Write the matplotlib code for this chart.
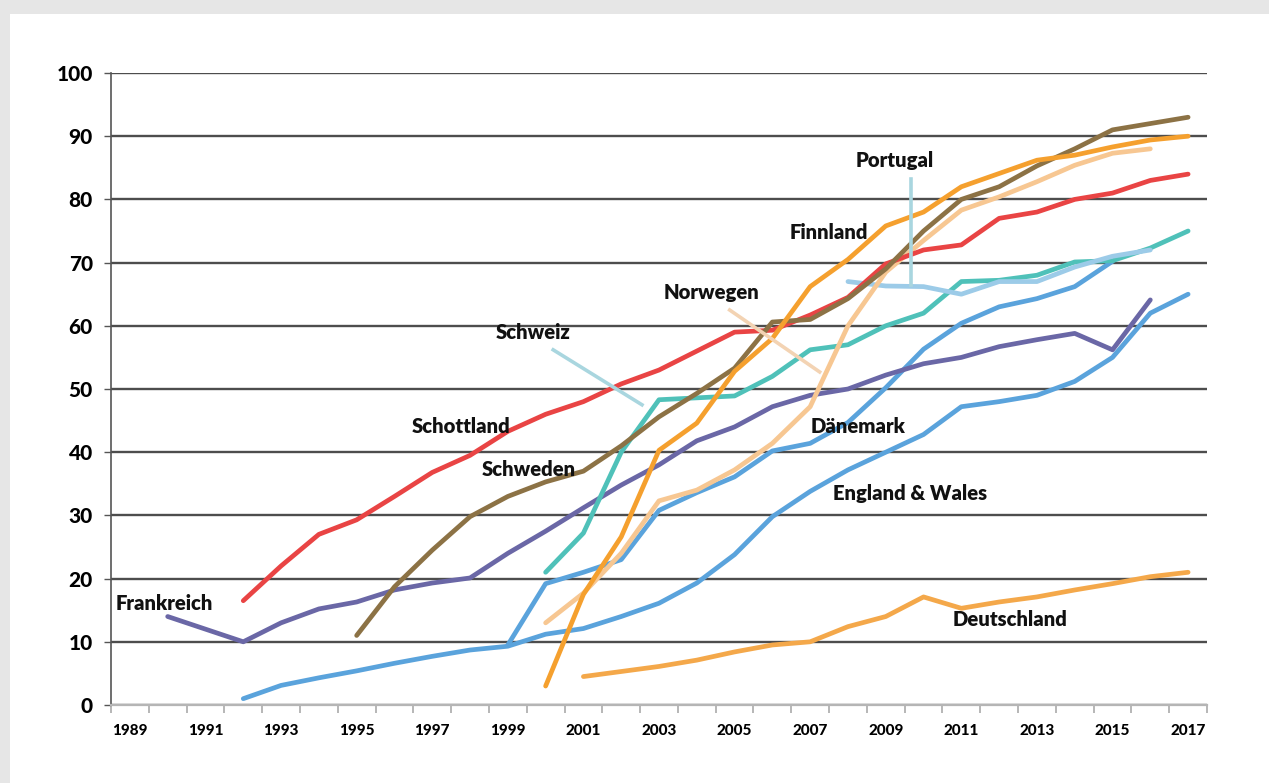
import matplotlib
matplotlib.use("Agg")
import matplotlib.pyplot as plt
from matplotlib.patches import Rectangle

# ---------------------------------------------------------
# Data: share (%) per country and year
# ---------------------------------------------------------
schottland_years = list(range(1992, 2018))
schottland = [16.5, 22, 27, 29.3, 33, 36.8, 39.5, 43.3, 46, 48, 50.8, 53, 56,
              59, 59.3, 61.7, 64.5, 69.8, 72, 72.8, 77, 78, 80, 81, 83, 84]

schweden_years = list(range(1995, 2018))
schweden = [11, 18.7, 24.5, 29.8, 33, 35.3, 37, 41, 45.6, 49.3, 53.3, 60.6,
            61, 64.3, 69, 75, 80, 82, 85.3, 88, 91, 92, 93]

frankreich_years = list(range(1990, 2017))
frankreich = [14, 12, 10, 13, 15.2, 16.3, 18.2, 19.3, 20.1, 24, 27.5, 31.2,
              34.8, 38, 41.8, 44, 47.2, 49, 50, 52.2, 54, 55, 56.7, 57.8,
              58.8, 56.2, 64.1]

england_years = list(range(1992, 2018))
england = [1, 3.1, 4.3, 5.4, 6.6, 7.7, 8.7, 9.3, 11.2, 12.1, 14, 16.1, 19.3,
           23.8, 29.8, 33.8, 37.2, 40, 42.8, 47.2, 48, 49, 51.2, 55, 62, 65]

daenemark_years = list(range(1999, 2016))
daenemark = [9.5, 19.2, 21, 23, 30.8, 33.6, 36.1, 40.2, 41.4, 44.7, 50.2,
             56.3, 60.4, 63, 64.3, 66.2, 70.2]

schweiz_years = list(range(2000, 2018))
schweiz = [21, 27.2, 40, 48.3, 48.6, 48.9, 52, 56.2, 57, 60, 62, 67, 67.2,
           68, 70.1, 70.3, 72.3, 75]

finnland_years = list(range(2000, 2018))
finnland = [3, 17.5, 26.6, 40.3, 44.6, 52.8, 58, 66.2, 70.5, 75.8, 78, 82,
            84.1, 86.2, 87, 88.3, 89.4, 90]

norwegen_years = list(range(2000, 2017))
norwegen = [13, 17.7, 24, 32.3, 34, 37.2, 41.4, 47.2, 60, 68.5, 73.5, 78.3,
            80.4, 82.8, 85.4, 87.3, 88]

portugal_years = list(range(2008, 2017))
portugal = [67, 66.3, 66.2, 65, 67, 67, 69.3, 71, 72]

deutschland_years = list(range(2001, 2018))
deutschland = [4.5, 5.3, 6.1, 7.1, 8.4, 9.5, 10, 12.4, 14, 17.1, 15.3, 16.3,
               17.1, 18.2, 19.2, 20.3, 21]

label_years = list(range(1989, 2018, 2))
y_ticks = list(range(0, 101, 10))

# ---------------------------------------------------------
# Figure with a white "card" on a light grey background
# ---------------------------------------------------------
fig = plt.figure(figsize=(12.69, 7.83), dpi=100)
fig.patch.set_facecolor("#e6e6e6")
card = Rectangle((10 / 1269, 0), 1, (783 - 14) / 783,
                 transform=fig.transFigure, facecolor="white",
                 edgecolor="none", zorder=-10)
fig.patches.append(card)

ax = fig.add_axes([111 / 1269, 78 / 783, 1096 / 1269, 632 / 783])
ax.set_facecolor("none")
ax.set_zorder(5)

lw = 3.4
series = [
    (england_years, england, "#5aa3dc"),
    (daenemark_years, daenemark, "#5aa3dc"),
    (frankreich_years, frankreich, "#6a67a6"),
    (deutschland_years, deutschland, "#f4a84a"),
    (schweiz_years, schweiz, "#4fc1b9"),
    (portugal_years, portugal, "#9ccbe8"),
    (norwegen_years, norwegen, "#f7c792"),
    (schottland_years, schottland, "#e94444"),
    (schweden_years, schweden, "#8c7245"),
    (finnland_years, finnland, "#f5a02e"),
]
for xs, ys, col in series:
    ax.plot(xs, ys, color=col, lw=lw, solid_capstyle="round",
            solid_joinstyle="round", zorder=3)

# leader lines for the labels
ax.plot([2000.2, 2002.55], [56.2, 47.5], color="#a9d6df", lw=2.6, zorder=4)
ax.plot([2004.87, 2007.25], [62.5, 52.7], color="#f3d3b3", lw=2.6, zorder=4)
ax.plot([2009.68, 2009.68], [83.3, 66.5], color="#a9d6df", lw=2.6, zorder=4)

# country labels
lab_font = dict(family=["Lato", "DejaVu Sans"], fontweight="heavy",
                fontsize=14.6, color="#111111", zorder=5)
labels = [
    ("Frankreich", 1988.62, 16.1, "left"),
    ("Schottland", 1997.76, 44.0, "center"),
    ("Schweden", 1999.56, 37.3, "center"),
    ("Schweiz", 1999.66, 58.9, "center"),
    ("Norwegen", 2004.4, 65.2, "center"),
    ("Finnland", 2007.49, 74.7, "center"),
    ("Portugal", 2009.24, 86.1, "center"),
    ("Dänemark", 2008.26, 44.0, "center"),
    ("England & Wales", 2009.63, 33.5, "center"),
    ("Deutschland", 2012.28, 13.6, "center"),
]
for txt, x, y, ha in labels:
    ax.text(x, y, txt, ha=ha, va="center", **lab_font)

# ---------------------------------------------------------
# Axes styling
# ---------------------------------------------------------
ax.set_xlim(1988.5, 2017.5)
ax.set_ylim(0, 100)

ax.set_yticks(y_ticks)
ax.set_yticklabels([str(v) for v in y_ticks])
ax.yaxis.grid(True, color="#4d4d4d", lw=1.7, zorder=1)
ax.set_axisbelow(True)

ax.set_xticks(label_years)
ax.set_xticklabels([str(v) for v in label_years])
ax.set_xticks([y + 0.5 for y in range(1988, 2018)], minor=True)
ax.tick_params(axis="x", which="major", length=0, pad=14)
ax.tick_params(axis="x", which="minor", length=6, width=1.2, color="#aaaaaa",
               direction="out")
ax.tick_params(axis="y", length=5, width=1, color="#555555", pad=8)

for lab in ax.get_xticklabels():
    lab.set_family(["Lato", "DejaVu Sans"])
    lab.set_fontweight("black")
    lab.set_fontsize(11)
for lab in ax.get_yticklabels():
    lab.set_family(["Lato", "DejaVu Sans"])
    lab.set_fontweight("black")
    lab.set_fontsize(15)

for side in ("top", "right"):
    ax.spines[side].set_visible(False)
ax.spines["left"].set_color("#555555")
ax.spines["left"].set_linewidth(1.2)
ax.spines["bottom"].set_color("#b5b5b5")
ax.spines["bottom"].set_linewidth(1.6)

fig.savefig("out.png", dpi=100, facecolor=fig.get_facecolor())
